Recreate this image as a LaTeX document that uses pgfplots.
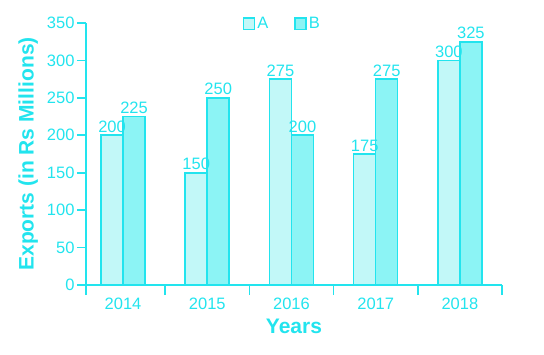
\documentclass[border=0pt]{standalone}
\usepackage{pgfplots}
\pgfplotsset{compat=1.18}
\usepackage{fontspec}
\setmainfont{Liberation Sans}
\definecolor{cy}{HTML}{22E4EE}
\definecolor{fa}{HTML}{C2F8F8}
\definecolor{fb}{HTML}{8CF4F5}
\begin{document}
\begin{tikzpicture}
\begin{axis}[
  scale only axis, width=416pt, height=262pt,
  xmin=-0.44, xmax=4.5, ymin=0, ymax=350,
  axis x line*=bottom, axis y line*=left,
  axis line style={cy, line width=1.6pt, -},
  ytick={0,50,...,350},
  xtick={0,1,2,3,4}, xticklabels={2014,2015,2016,2017,2018},
  minor xtick={-0.44,0.5,1.5,2.5,3.5,4.5},
  tick align=outside,
  major tick length=9pt, minor tick length=10pt,
  tick style={cy, line width=1.6pt},
  major x tick style={draw=none},
  /pgf/number format/assume math mode=true,
  /pgf/number format/1000 sep={},
  ticklabel style={font=\fontsize{16.5}{19}\selectfont, text=cy},
  yticklabel style={xshift=1pt},
  ylabel={Exports (in Rs Millions)},
  xlabel={Years},
  label style={font=\bfseries\fontsize{21}{25}\selectfont, text=cy},
  ylabel style={at={(axis description cs:-0.139,0.5)}, anchor=center},
  xlabel style={at={(axis description cs:0.5,0)}, anchor=center, yshift=-41pt},
  ybar=0pt, bar width=22pt,
  clip=false,
  nodes near coords,
  nodes near coords style={font=\fontsize{16.5}{19}\selectfont, text=cy, anchor=south, inner sep=2pt},
  legend columns=2,
  legend style={at={(0.472,0.996)}, anchor=center, draw=none, fill=none,
    font=\fontsize{16.5}{19}\selectfont, text=cy,
    /tikz/every even column/.append style={column sep=24pt}},
  legend image code/.code={\draw[#1, line width=1.6pt] (0pt,-5.5pt) rectangle (11pt,6pt);},
]
\addplot[draw=cy, fill=fa, line width=1.6pt] coordinates {(0,200) (1,150) (2,275) (3,175) (4,300)};
\addplot[draw=cy, fill=fb, line width=1.6pt] coordinates {(0,225) (1,250) (2,200) (3,275) (4,325)};
\legend{A,B}
\end{axis}
\pgfresetboundingbox
\path ([shift={(-86pt,-69pt)}]current axis.south west) rectangle ++(544pt,354pt);
\end{tikzpicture}
\end{document}
